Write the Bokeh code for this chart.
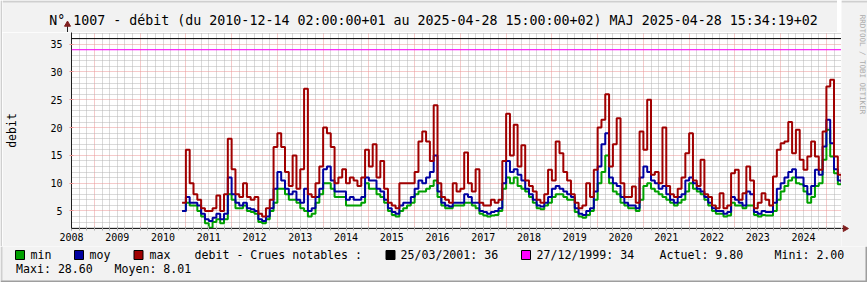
import pandas as pd
from math import pi
from bokeh.plotting import figure
from bokeh.layouts import row, column
from bokeh.models import (FixedTicker, Span, Range1d, BasicTickFormatter, ColumnDataSource)
from bokeh.core.properties import value
from bokeh.embed import file_html
from bokeh.resources import INLINE

# ---------------- data (monthly, starting June 2010) ----------------
start_month = "2010-06-01"

debit_max = [
    6.5, 16, 10, 8, 7, 5.5, 5, 5, 5.5, 7.8,
    5, 8, 18, 12.5, 8, 7.5, 10, 7.5, 7, 7.5,
    4.5, 4, 5.5, 7, 16.5, 19, 16.5, 12, 9.5, 15,
    9, 12.5, 27, 8, 7.5, 10, 13, 20, 19, 16.5,
    10, 11, 12.5, 10, 11, 10.5, 9.5, 11, 16, 13,
    17, 11, 14, 9, 6.5, 6, 5.5, 10, 10, 10,
    10, 12, 17.5, 19.3, 17.5, 14, 24, 10, 7.5, 7,
    6.5, 10, 8.5, 9, 15.5, 10, 8.5, 12.5, 6.5, 6,
    6, 7, 6.5, 7, 14, 22.5, 15, 20.5, 13, 16.8,
    10.5, 9.5, 8.5, 7, 6.5, 8, 12.4, 10.5, 17.5, 15.4,
    12, 10.5, 8, 6.5, 5.5, 6, 10, 7.5, 12.4, 20,
    21.4, 26, 13, 17, 21.7, 10, 7.5, 7.5, 9.4, 6.5,
    19.3, 16, 25, 11.5, 12, 10, 20, 9.5, 8, 7.5,
    9, 11, 15.4, 19, 10.5, 9.5, 14.2, 8, 7.5, 6,
    5.5, 8.2, 5.5, 6, 11.8, 12.4, 7, 8.2, 13, 10.5,
    5.5, 6.5, 8.2, 7, 6, 11.2, 16, 17.2, 17.5, 21,
    15.4, 19.6, 14.2, 12.4, 14.8, 17.5, 14.8, 12.4, 19.3, 27.4,
    28.6, 14.8, 11.5, 10.2,
]

debit_moy = [
    5, 7.5, 6.5, 6.5, 6, 4.5, 3.5, 3.2, 3.8, 4.5,
    3.5, 4.5, 11, 8, 6.5, 6, 6.5, 5.5, 5.3, 5,
    3.5, 3.2, 4, 5.5, 9, 12, 10.5, 9, 8, 8.5,
    7, 6.5, 9, 5, 5.5, 7.5, 9, 12.5, 13, 10.5,
    8.5, 8.5, 8.5, 7, 7.5, 7, 7, 7.5, 11, 10.5,
    10.5, 9, 8.5, 7, 5.5, 4.8, 4.5, 6, 6.5, 6.5,
    7.5, 9, 10.5, 10, 11, 12, 15, 8.5, 6.5, 6,
    5.8, 6.5, 6.5, 6.5, 8, 7.5, 6.5, 6.5, 5, 4.8,
    4.5, 4.8, 5, 5.5, 10, 14, 12, 12.5, 11.5, 10.5,
    9, 8, 7, 6, 5.8, 6.5, 7.5, 9, 9.5, 9,
    8.5, 8, 7.5, 5.5, 4.5, 4.3, 5, 5.5, 8.5, 13,
    17, 19, 11, 10, 9.5, 7.5, 6.5, 6, 6, 5.5,
    11, 13, 12, 10.5, 10, 9, 9.5, 8, 7, 6.5,
    7.5, 8, 10.5, 11, 10, 9, 8.5, 7.5, 6.5, 5.5,
    5, 5, 4.5, 4.8, 7.5, 7, 6.5, 6, 8.5, 8,
    4.8, 4.5, 5, 4.8, 4.8, 6.5, 9, 10, 11, 12,
    12.5, 11, 11, 9.5, 8, 9.5, 12.4, 11.5, 16.6, 21.4,
    17.2, 12.5, 10.5, 10,
]

debit_min = [
    5, 6.5, 6, 6, 5, 4, 2.8, 2, 3, 3.5,
    2.8, 3.5, 8, 7, 5.5, 5.5, 6, 5, 4.8, 4.5,
    3, 2.8, 3.5, 5, 6.5, 9, 9, 8, 7, 7,
    6.5, 5.5, 5, 4, 4.5, 6.5, 8, 10, 10, 9,
    7.5, 7.5, 7.5, 6, 6, 6, 6, 6.5, 10, 9,
    9, 8, 7.5, 6.5, 5, 4.3, 4, 5, 5.5, 6,
    6.5, 8, 8.5, 8.5, 9, 9.5, 10.5, 7.5, 6, 5.5,
    5.5, 6, 6, 6, 6.5, 6.5, 6, 5.5, 4.5, 4.2,
    4, 4.2, 4.3, 5, 9, 11, 10, 11, 9.5, 9,
    8.5, 7.5, 6.5, 5.5, 5.3, 6, 6.5, 7.5, 8, 8,
    7.5, 7, 7, 4.8, 4, 3.8, 4.3, 5, 7, 10,
    12, 15, 10, 8.5, 8, 6.5, 6, 5.5, 5.5, 5,
    7, 9.5, 10, 9, 8.5, 8, 7.5, 7, 6.5, 6,
    6.5, 7, 8.5, 10, 9, 8.5, 8, 7, 6, 5,
    4.5, 4.5, 4, 4.2, 6.5, 6, 6, 5.5, 6, 6,
    4.3, 4, 4.3, 4.2, 4.2, 5, 7, 8.5, 9.5, 10.5,
    11, 10, 9.8, 8.5, 6.5, 7.5, 9.5, 10, 14.2, 19.6,
    14.8, 11.8, 9.8, 9.8,
]

crue_labels = ["25/03/2001: 36", "27/12/1999: 34"]
crue_values = [36, 34]
crue_colors = ["#000000", "#FF00FF"]

series_names = ["min", "moy", "max"]
series_colors = ["#00A000", "#0000A0", "#A00000"]

year_ticks = list(range(2008, 2025))
y_ticks = [5, 10, 15, 20, 25, 30, 35]

title_text = ("N\u00b0 1007 - d\u00e9bit (du 2010-12-14 02:00:00+01 au "
              "2025-04-28 15:00:00+02) MAJ 2025-04-28 15:34:19+02")
legend_title = "debit - Crues notables :"
stats_row1 = ["Actuel: 9.80", "Mini: 2.00"]
stats_row2 = ["Maxi: 28.60", "Moyen: 8.01"]
watermark = "RRDTOOL / TOBI OETIKER"

# ---------------- style ----------------
FONT = "DejaVu Sans Mono"
BG = "#F2F2F2"
SHADE_A = "#CFCFCF"
SHADE_B = "#9E9E9E"
ARROW = "#801F1F"
AXIS = "#1F1F1F"


def deco(w, h, x0, x1, y_top, y_bot):
    """Decoration strip whose frame covers its whole area, in canvas pixels."""
    return figure(width=w, height=h, x_range=Range1d(x0, x1), y_range=Range1d(y_bot, y_top),
                  min_border_left=0, min_border_right=0, min_border_top=0, min_border_bottom=0,
                  x_axis_type=None, y_axis_type=None, toolbar_location=None,
                  output_backend="svg", background_fill_color=BG, border_fill_color=BG,
                  outline_line_color=None, title=None)


# ---------------- main chart ----------------
months = pd.date_range(start_month, periods=len(debit_max), freq="MS")
t = list(months.year + (months.month - 1) / 12.0)
src = ColumnDataSource(dict(t=t, mn=debit_min, my=debit_moy, mx=debit_max))

p = figure(frame_width=770, frame_height=196,
           min_border_left=65, min_border_right=0,
           min_border_top=0, min_border_bottom=18,
           x_range=Range1d(2008.0, 2024.83), y_range=Range1d(1.85, 37.1),
           output_backend="svg", toolbar_location=None, title=None,
           background_fill_color="white", border_fill_color=BG,
           outline_line_color=None)

mid_years = [y + 0.5 for y in year_ticks]
two_months = [y + k / 6.0 for y in year_ticks for k in range(6) if k != 3]
p.xgrid.ticker = FixedTicker(ticks=mid_years, minor_ticks=two_months)
p.ygrid.ticker = FixedTicker(ticks=y_ticks,
                             minor_ticks=[v for v in range(2, 38) if v % 5 != 0])
for g in (p.xgrid[0], p.ygrid[0]):
    g.grid_line_color = "#EB9595"
    g.grid_line_dash = "1 1"
    g.grid_line_width = 1
    g.minor_grid_line_color = "#B4B4B4"
    g.minor_grid_line_dash = "1 1"
    g.minor_grid_line_width = 1

xa = p.xaxis[0]
xa.ticker = FixedTicker(ticks=year_ticks, minor_ticks=two_months + mid_years)
xa.formatter = BasicTickFormatter(use_scientific=False)
xa.major_tick_in = 2
xa.major_tick_out = 2
xa.minor_tick_in = 2
xa.minor_tick_out = 2
xa.major_tick_line_color = "#ABABAB"
xa.minor_tick_line_color = "#ABABAB"
xa.major_label_standoff = 2

ya = p.yaxis[0]
ya.ticker = FixedTicker(ticks=y_ticks)
ya.major_tick_in = 2
ya.major_tick_out = 2
ya.major_tick_line_color = "#EB9595"
ya.minor_tick_line_color = None
ya.major_label_standoff = 7
ya.axis_label = "debit"
ya.axis_label_text_font = FONT
ya.axis_label_text_font_size = "11.5px"
ya.axis_label_text_font_style = "normal"
ya.axis_label_text_color = "#000000"
ya.axis_label_standoff = 28

for a in (xa, ya):
    a.axis_line_color = AXIS
    a.major_label_text_font = FONT
    a.major_label_text_font_size = "10px"
    a.major_label_text_color = "#000000"

for v, c in zip(crue_values, crue_colors):
    p.add_layout(Span(location=v, dimension="width", line_color=c, line_width=1))

for col, c in zip(["mn", "my", "mx"], series_colors):
    p.step("t", col, source=src, mode="after", line_color=c, line_width=2)

# ---------------- decoration strips (canvas pixel coordinates) ----------------
left = deco(2, 246, 0, 2, 0, 246)
left.quad(left=[0], right=[2], top=[0], bottom=[246], fill_color=SHADE_A, line_color=None)

top = deco(835, 32, 2, 837, 0, 32)
top.quad(left=[2], right=[837], top=[0], bottom=[2], fill_color=SHADE_A, line_color=None)
top.text(x=[433], y=[19.5], text=[title_text], text_font=value(FONT),
         text_font_size=value("13.3px"), text_align="center", text_baseline="middle",
         text_color="#000000")
top.segment(x0=[67], y0=[25], x1=[67], y1=[32], line_color=AXIS, line_width=1)
top.scatter(x=[67], y=[24], marker="triangle", size=6, fill_color=ARROW, line_color=ARROW)

wm = deco(30, 246, 837, 867, 0, 246)
wm.quad(left=[837], right=[865], top=[0], bottom=[2], fill_color=SHADE_A, line_color=None)
wm.quad(left=[865], right=[867], top=[0], bottom=[246], fill_color=SHADE_B, line_color=None)
wm.text(x=[858], y=[64], text=[watermark], angle=-pi / 2, text_font=value(FONT),
        text_font_size=value("7.5px"), text_align="center", text_baseline="middle",
        text_color="#ABABAB")
wm.segment(x0=[837], y0=[228], x1=[840], y1=[228], line_color=AXIS, line_width=1)
wm.scatter(x=[840.5], y=[228], marker="triangle", angle=-pi / 2, size=6,
           fill_color=ARROW, line_color=ARROW)

leg = deco(867, 36, 0, 867, 246, 282)
leg.quad(left=[0], right=[2], top=[246], bottom=[280], fill_color=SHADE_A, line_color=None)
leg.quad(left=[865], right=[867], top=[246], bottom=[282], fill_color=SHADE_B, line_color=None)
leg.quad(left=[0], right=[867], top=[280], bottom=[282], fill_color=SHADE_B, line_color=None)
row1 = 254.5
row2 = 268.5
sq_x = [19.5, 78.5, 138.0, 390.0, 525.5]
sq_c = series_colors + crue_colors
leg.rect(x=sq_x, y=[row1] * len(sq_x), width=9, height=9, fill_color=sq_c,
         line_color="black", line_width=1)
leg_texts = series_names + [legend_title] + crue_labels + stats_row1 + stats_row2
leg_x = [30, 89, 149, 194, 400, 536, 659, 774, 15.5, 114]
leg_y = [row1] * 8 + [row2, row2]
leg.text(x=leg_x, y=leg_y, text=leg_texts, text_font=value(FONT),
         text_font_size=value("11.6px"), text_align="left", text_baseline="middle",
         text_color="#000000")

# each strip wrapped in its own row so that columns do not align plot frames
middle = column(row(top, spacing=0), row(p, spacing=0), spacing=0)
upper = row(left, middle, wm, spacing=0)
layout = column(upper, row(leg, spacing=0), spacing=0)
open("out.html", "w").write(file_html(layout, INLINE))
